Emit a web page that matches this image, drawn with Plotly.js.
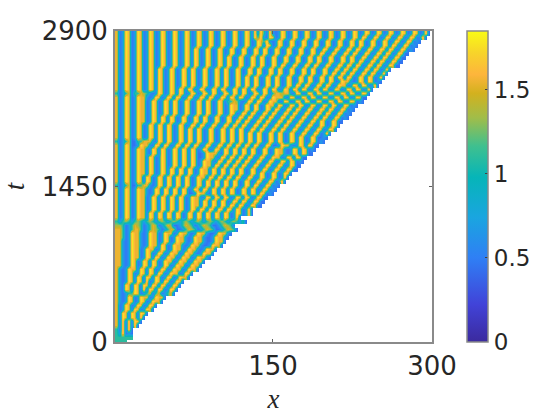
<!DOCTYPE html>
<html lang="en">
<head>
<meta charset="UTF-8">
<title>Space-time stripes</title>
<script src="https://cdn.plot.ly/plotly-2.35.2.min.js"></script>
<style>
  html, body { margin: 0; padding: 0; background: white; }
  #plot { width: 560px; height: 420px; }
</style>
</head>
<body>
<div id="plot"></div>
<script>
// digit = index into zLevels, spaces only group one stripe period
const zRows = [
"5 0275 0275 0275 0275 0275 0275 0275 0275 0275 0275 0275 0727 3072 0275 0275 0275 0275 0275 0275 0275 0275 0275 0275 0275 0275 0275 0275",
"5 0275 0275 0275 0275 0275 0275 0275 0275 0275 0275 0275 0737 2075 0275 0275 0275 0275 0275 0275 0275 075 0275 0275 0275 0275 0275",
"5 0275 0275 0275 0275 0275 0275 0275 0275 0275 0275 0275 0275 372 0275 0275 0275 0275 0275 0275 0275 075 0275 0275 0275 0275 0275",
"5 0275 0275 0275 0275 0275 0275 0275 0275 0275 0275 0275 0275 075 0275 0275 0275 0275 0275 0275 0275 075 0275 0275 075 0275 0275",
"5 0275 0275 0275 0275 0275 0275 075 0275 0275 0275 0275 0275 075 0275 0275 0275 0275 0275 0275 0275 075 0275 0275 075 0275 0275",
"5 0275 0275 0275 0275 0275 0275 075 0275 0275 0275 0275 0275 075 0275 0275 0275 0275 075 0275 0275 075 0275 0275 075 0275 0275",
"5 0275 0275 0275 0275 0275 0275 075 0275 0275 075 0275 0275 075 0275 0275 0275 0275 075 0275 0275 075 0275 0275 075 0275 0275",
"5 0275 0275 0275 0275 0275 0275 075 0275 0275 075 0275 0275 075 0275 0275 0275 0275 075 0275 0275 075 075 0275 075 0275 0275",
"5 0275 0275 0275 0275 0275 0275 075 0275 0275 075 0275 0275 075 0275 075 0275 0275 075 0275 0275 075 075 0275 075 0275 0275",
"5 0275 0275 0275 075 0275 0275 075 0275 0275 075 0275 0275 075 0275 075 0275 0275 075 0275 0275 075 075 0275 075 0275",
"5 0275 0275 0275 075 0275 0275 075 0275 0275 075 0275 0275 075 0275 075 0275 0275 075 0275 075 075 075 0275 075 0275",
"5 0275 0275 0275 075 0275 0275 075 0275 0275 075 0275 075 075 0275 075 0275 0275 075 0275 075 075 075 0275 075 0275",
"5 0275 0275 0275 075 0275 0275 075 0275 0275 075 0275 075 075 0275 075 0275 0275 075 0275 075 027552 0275 075 0275",
"5 0275 0275 0275 075 0275 0275 075 0275 0275 075 0275 075 075 0275 075 0275 075 075 0275 075 02755 0275 075 0275",
"5 0275 0275 0275 075 0275 075 075 0275 0275 075 0275 075 075 0275 075 0275 075 075 0275 075 0275 0275 075 0275",
"3 0235 0335432 0275 0275 075 0275 0275 075 0275 075 075 0275 075 03554552 075 0275 075 0275 0275 075 0275 0275 0275 0275",
"5 0275 027552 0275 0275 075 0275 0275 075 0275 075 075 0275 075 0275552 075 0275 075 0275 0275 075 0275 0275 0275 0275",
"5 0275 02755 0275 0275 075 0275 0275 075 0275 033542 0275 075 027552 075 0275 075 0275 0275 075 0275 0275 0275 0275",
"5 0275 02755 0275 0275 075 0275 0275 075 0275 02755 0275 075 02755 075 0275 075 0275 0275 075 0275 0275 0275 0275",
"5 0275 02755 0275 0275 075 0275 0275 075 0275 02755 0275 075 0275 075 0275 075 0275 0275 075 0275 0275 0275 0275",
"5 0275 02755 0275 0275 075 0275 0275 075 0275 0275 0275 075 0275 075 0275 075 0275 0275 075 0275 0275 0275 0275",
"5 0275 02755 0275 075 075 0275 0275 075 0275 0275 0275 075 0275 075 0275 075 0275 0275 075 0275 0275 0275 0275",
"5 0275 02755 0275 075 075 0275 0275 075 0275 0275 075 075 0275 075 0275 075 0275 0275 075 0275 0275 0275 0275",
"5 0275 0275 0275 075 075 0275 0275 075 0275 0275 075 075 0275 075 0275 075 0275 0275 0275 0275 0275 0275",
"5 0275 0275 0275 075 075 0275 075 075 0275 0275 075 075 0275 075 0275 075 0275 0275 0275 0275 0275 0275",
"5 0275 0275 0275 075 075 0275 075 075 0275 0275 075 075 075 075 0275 075 0275 0275 0275 0275 0275 0275",
"5 0275 0275 0275 075 075 0275 075 075 0275 0275 075 075 075 075 0275 075 0275 075 0275 0027552 0275 0275",
"3 0235 00335552 075 075 0275 075 075 0275 0275 075 075 075 075 0275 075 0275 075 0275 027552 0275 0275 0275",
"5 0275 0027552 075 075 0275 075 075 0275 0275 075 075 075 075 0275 0027552 0275 075 0275 0275 0275 0275",
"5 0275 027552 075 075 0275 075 075 0275 0275 075 075 075 075 0275 027552 0275 075 0275 0275 0275 0275",
"5 0275 027552 075 075 0275 075 075 00275552 075 075 075 075 0275 027552 0275 075 0275 0275 0275 0275",
"5 0275 02755 075 0275 0275 075 075 0027552 075 075 075 075 0275 02755 0275 075 0275 0275 0275 0275",
"5 0275 02755 075 0275 0275 075 075 027552 075 075 075 075 0275 0275 0275 075 0275 0275 0275 0275",
"5 0275 02755 075 0275 0275 075 075 02755 075 075 075 075 0275 0275 0275 0275 0275 0275 0275",
"5 0275 02755 075 0275 075 075 075 02755 075 075 075 075 0275 0275 0275 0275 0275 0275",
"5 0275 02755 075 0275 075 075 075 02755 075 075 075 075 0275 075 0275 0275 0275 0275",
"5 0275 0275 075 0275 075 075 075 02755 075 075 075 075 0275 0275 0275 0275 0275",
"5 0275 0275 075 0275 075 075 075 0275 075 075 075 075 0275 0275 0275 0275",
"3 0235 0033552 0275 075 075 075 0275 075 075 075 075 0275 075 0275 0275 0275",
"5 0275 027552 0275 075 075 075 0275 075 075 075 075 0275 075 0275 0275",
"5 0275 027552 0275 075 075 075 0027552 075 075 075 0275 075 075 0275 0275",
"5 0275 02755 0275 075 075 075 027552 075 075 075 0275 075 0275 0275",
"5 0275 02755 0275 075 075 075 02755 075 075 075 0275 075 0275 0275",
"5 0275 02755 0275 075 075 075 02755 075 075 075 075 075 0275 0275",
"5 0275 02755 0275 075 075 075 0275 075 075 075 075 075 0275",
"5 0275 02755 075 075 075 075 0275 075 075 075 075 0275 0275",
"5 0275 02755 075 075 075 075 0275 075 075 075 075 0275",
"3 1343 2343 2343 2343 2343 2343 2343 2343 2343 2343 2343 2",
"443 023543 02354 02354 0023543 023543 0023543 0",
"553 023553 023543 02354 0023543 023543 0023543 0",
"553 027552 02755 02755 027552 027552 0027552 0",
"553 027552 02755 0275 027552 027552 0027552 0",
"552 027552 02755 0275 027552 027552 0027552 0",
"552 027552 02755 075 027552 027552 0027552 0",
"552 02755 02755 0275 02755 027552 027552 0",
"552 02755 0275 0275 02755 027552 027552 0",
"552 02755 0275 075 02755 02755 027552 0",
"552 0275 0275 075 02755 02755 027552 0",
"552 0275 0275 075 0275 02755 02755 0",
"52 02755 075 075 0275 02755 02755 0",
"52 0275 0275 075 075 02755 0275 0",
"52 0275 075 075 075 0275 02755 0",
"52 0275 075 07 0275 075 0275 0",
"52 075 075 075 075 075 0275 0",
"52 075 075 07 075 075 0275 0",
"52 023 375 0235 035 0235 0",
"52 0275 02755 02755 0",
"52 0275 0275 02755 0",
"5 0275 0275 0275 0",
"5 0275 075 0275 0",
"5 075 075 075 0",
"5 075 075 07 0",
"5 07 07 075 0",
"5 07 07 07 0",
"3 07 07 0",
"3 17 0 2 0",
"333333",
"333333"
];
const zLevels = [0.45, 0.65, 0.68, 1.1, 1.35, 1.55, 1.65, 1.82];

const xTicks = [150, 300];
const tTicks = [0, 1450, 2900];
const barTicks = [0, 0.5, 1, 1.5];
const barLabels = ['0', '0.5', '1', '1.5'];

const parula = [
    [0, '#3b2a9e'], [0.12, '#4143d8'], [0.27, '#2f7ff5'], [0.4, '#1aa5e0'],
    [0.53, '#06b5b8'], [0.63, '#3fc08f'], [0.72, '#a0bd4a'], [0.8, '#d3b11e'],
    [0.86, '#fdb53c'], [0.93, '#f7d42a'], [1, '#f9fb15']
];

const dx = 2.83, dt = 37.3, nCols = 106;

// the domain is a wedge, nothing is drawn right of this line
function edgeX(t) {
    return 12.3 + 0.0992 * t;
}

function buildZ() {
    const z = [];
    zRows.forEach((row, r) => {
        const digits = row.replace(/ /g, '');
        const t = 2900 - dt * (r + 0.5);
        const cells = [];
        let last = -1;
        for (let c = 0; c < nCols; c++) {
            const x = 1 + dx * (c + 0.5);
            if (x <= edgeX(t) && c < digits.length) {
                cells.push(zLevels[+digits[c]]);
                last = c;
            } else {
                cells.push(null);
            }
        }
        // thin blue rim along the wedge
        if (last >= 0 && r < 75) cells[last] = zLevels[0];
        z.unshift(cells);
    });
    return z;
}

const trace = {
    type: 'heatmap',
    z: buildZ(),
    x0: 1 + dx / 2,
    dx: dx,
    y0: 2900 - dt * (zRows.length - 0.5),
    dy: dt,
    zmin: 0,
    zmax: 1.85,
    zsmooth: 'best',
    colorscale: parula,
    hoverongaps: false,
    colorbar: {
        x: 1.11, xanchor: 'left', xpad: 0,
        y: 0.5, yanchor: 'middle', ypad: 0,
        len: 1, thickness: 21,
        outlinecolor: '#8a8a8a', outlinewidth: 1.5,
        ticks: 'inside', ticklen: 3, tickcolor: '#404040',
        tickvals: barTicks, ticktext: barLabels,
        tickfont: {family: 'DejaVu Sans', size: 23, color: '#262626'}
    }
};

const axisStyle = {
    showgrid: false, zeroline: false,
    showline: true, mirror: 'ticks', linecolor: '#8a8a8a', linewidth: 2,
    ticks: 'inside', ticklen: 3, tickcolor: '#606060',
    tickfont: {family: 'DejaVu Sans', size: 26, color: '#262626'}
};

const layout = {
    width: 560, height: 420,
    margin: {l: 115, r: 128, t: 31, b: 78},
    paper_bgcolor: 'white', plot_bgcolor: 'white',
    xaxis: Object.assign({}, axisStyle, {
        range: [1, 300], tickvals: xTicks, ticktext: xTicks.map(String),
        title: {text: '<i>x</i>', standoff: 9, font: {family: 'Liberation Serif', size: 27, color: '#262626'}}
    }),
    yaxis: Object.assign({}, axisStyle, {
        range: [0, 2900], tickvals: tTicks, ticktext: tTicks.map(String),
        title: {text: '<i>t</i>', standoff: 12, font: {family: 'Liberation Serif', size: 27, color: '#262626'}}
    })
};

Plotly.newPlot('plot', [trace], layout, {displayModeBar: false, staticPlot: true});
</script>
</body>
</html>
